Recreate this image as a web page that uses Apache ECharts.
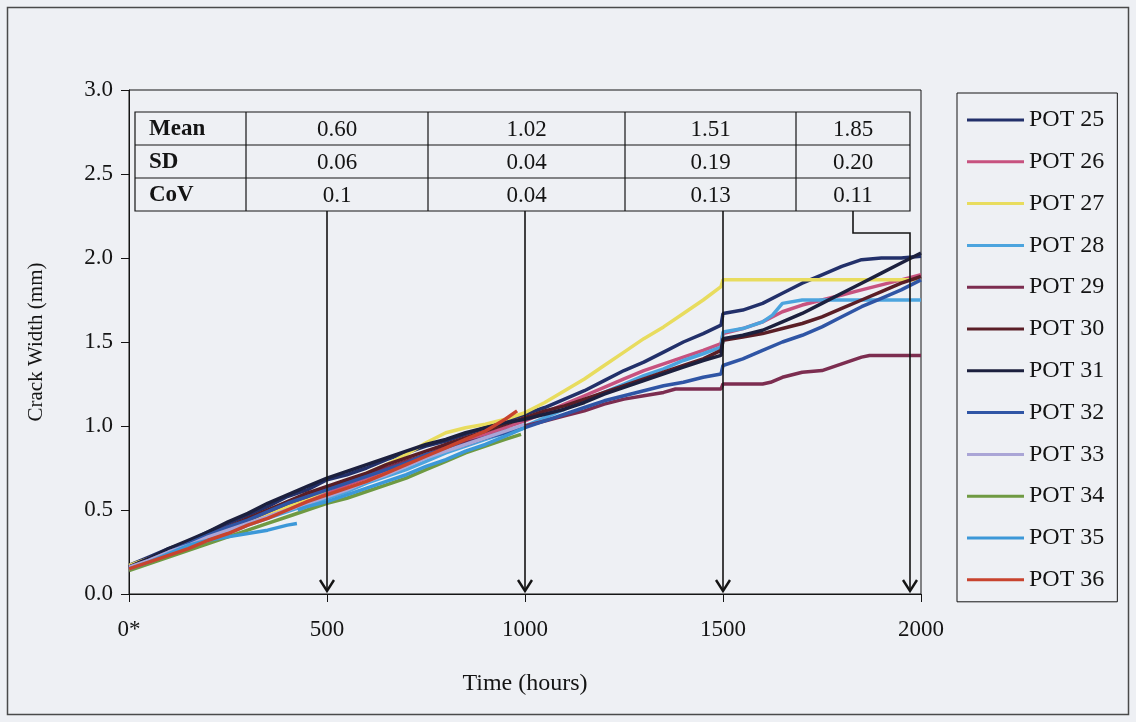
<!DOCTYPE html>
<html>
<head>
<meta charset="utf-8">
<title>Crack width vs time</title>
<script src="https://cdn.jsdelivr.net/npm/echarts@6/dist/echarts.min.js"></script>
<style>
  html, body { margin: 0; padding: 0; background: #eef0f4; }
  #chart { width: 1136px; height: 722px; }
</style>
</head>
<body>
<div id="chart"></div>
<script>
// ---- data -------------------------------------------------------------
const seriesNames = ['POT 25', 'POT 26', 'POT 27', 'POT 28', 'POT 29', 'POT 30',
                     'POT 31', 'POT 32', 'POT 33', 'POT 34', 'POT 35', 'POT 36'];

const seriesColors = ['#22306a', '#c7527f', '#e8dc5e', '#4ca4de', '#7c2d50', '#5a1e26',
                      '#1c203e', '#2f55a5', '#aaa5d6', '#6f9a42', '#3c98d8', '#c8432e'];

// [time (hours), crack width (mm)]
const pot25 = [[0,0.17],[50,0.22],[100,0.27],[150,0.31],[200,0.37],[250,0.42],[300,0.47],[350,0.52],[400,0.58],[450,0.62],
  [500,0.68],[550,0.71],[600,0.75],[650,0.80],[700,0.84],[750,0.88],[800,0.91],[850,0.95],[900,0.99],[950,1.03],
  [1000,1.07],[1050,1.11],[1100,1.16],[1150,1.21],[1200,1.27],[1250,1.33],[1300,1.38],[1350,1.44],[1400,1.50],[1450,1.55],
  [1495,1.60],[1500,1.67],[1550,1.69],[1600,1.73],[1650,1.79],[1700,1.85],[1750,1.90],[1800,1.95],[1850,1.99],[1900,2.00],
  [1950,2.00],[2000,2.01]];
const pot26 = [[0,0.15],[50,0.19],[100,0.24],[150,0.29],[200,0.33],[250,0.38],[300,0.42],[350,0.47],[400,0.52],[450,0.56],
  [500,0.60],[550,0.65],[600,0.69],[650,0.74],[700,0.78],[750,0.83],[800,0.87],[850,0.91],[900,0.95],[950,0.99],
  [1000,1.03],[1050,1.08],[1100,1.13],[1150,1.18],[1200,1.23],[1250,1.28],[1300,1.33],[1350,1.37],[1400,1.41],[1450,1.45],
  [1495,1.49],[1500,1.55],[1550,1.58],[1600,1.62],[1650,1.68],[1700,1.72],[1750,1.75],[1800,1.78],[1850,1.81],[1900,1.84],
  [1950,1.87],[2000,1.90]];
const pot27 = [[0,0.17],[50,0.21],[100,0.25],[150,0.29],[200,0.34],[250,0.38],[300,0.43],[350,0.48],[400,0.52],[450,0.57],
  [500,0.62],[550,0.67],[600,0.72],[650,0.77],[700,0.83],[750,0.90],[800,0.96],[850,0.99],[900,1.01],[950,1.04],
  [1000,1.08],[1050,1.14],[1100,1.21],[1150,1.28],[1200,1.36],[1250,1.44],[1300,1.52],[1350,1.59],[1400,1.67],[1450,1.75],
  [1495,1.83],[1500,1.87],[1550,1.87],[1600,1.87],[1650,1.87],[1700,1.87],[1750,1.87],[1800,1.87],[1850,1.87],[1900,1.87],
  [1950,1.87],[2000,1.87]];
const pot28 = [[0,0.15],[50,0.19],[100,0.23],[150,0.28],[200,0.32],[250,0.36],[300,0.41],[350,0.45],[400,0.49],[450,0.53],
  [500,0.57],[550,0.61],[600,0.66],[650,0.70],[700,0.74],[750,0.79],[800,0.84],[850,0.88],[900,0.92],[950,0.96],
  [1000,1.00],[1050,1.05],[1100,1.10],[1150,1.15],[1200,1.20],[1250,1.25],[1300,1.30],[1350,1.34],[1400,1.39],[1450,1.43],
  [1495,1.47],[1500,1.56],[1550,1.58],[1600,1.62],[1625,1.66],[1650,1.73],[1700,1.75],[1750,1.75],[1800,1.75],[1850,1.75],
  [1900,1.75],[1950,1.75],[2000,1.75]];
const pot29 = [[0,0.16],[50,0.20],[100,0.25],[150,0.30],[200,0.35],[250,0.40],[300,0.44],[350,0.49],[400,0.54],[450,0.58],
  [500,0.63],[550,0.67],[600,0.71],[650,0.75],[700,0.79],[750,0.83],[800,0.87],[850,0.90],[900,0.93],[950,0.97],
  [1000,1.00],[1050,1.03],[1100,1.06],[1150,1.09],[1200,1.13],[1250,1.16],[1300,1.18],[1350,1.20],[1380,1.22],[1450,1.22],
  [1495,1.22],[1500,1.25],[1550,1.25],[1600,1.25],[1620,1.26],[1650,1.29],[1700,1.32],[1750,1.33],[1800,1.37],[1850,1.41],
  [1870,1.42],[1950,1.42],[2000,1.42]];
const pot30 = [[0,0.16],[50,0.21],[100,0.25],[150,0.30],[200,0.35],[250,0.40],[300,0.45],[350,0.50],[400,0.55],[450,0.60],
  [500,0.64],[550,0.68],[600,0.72],[650,0.77],[700,0.81],[750,0.85],[800,0.89],[850,0.93],[900,0.97],[950,1.01],
  [1000,1.05],[1050,1.09],[1100,1.12],[1150,1.16],[1200,1.20],[1250,1.24],[1300,1.28],[1350,1.32],[1400,1.36],[1450,1.40],
  [1495,1.45],[1500,1.51],[1550,1.53],[1600,1.55],[1650,1.58],[1700,1.61],[1750,1.65],[1800,1.70],[1850,1.75],[1900,1.80],
  [1950,1.85],[2000,1.89]];
const pot31 = [[0,0.16],[50,0.21],[100,0.27],[150,0.32],[200,0.37],[250,0.43],[300,0.48],[350,0.54],[400,0.59],[450,0.64],
  [500,0.69],[550,0.73],[600,0.77],[650,0.81],[700,0.85],[750,0.89],[800,0.92],[850,0.96],[900,0.99],[950,1.02],
  [1000,1.04],[1050,1.07],[1100,1.10],[1150,1.14],[1200,1.19],[1250,1.23],[1300,1.27],[1350,1.31],[1400,1.35],[1450,1.39],
  [1495,1.42],[1500,1.52],[1550,1.54],[1600,1.57],[1650,1.62],[1700,1.67],[1750,1.73],[1800,1.79],[1850,1.85],[1900,1.91],
  [1950,1.97],[2000,2.03]];
const pot32 = [[0,0.15],[50,0.20],[100,0.25],[150,0.30],[200,0.35],[250,0.40],[300,0.44],[350,0.49],[400,0.54],[450,0.58],
  [500,0.62],[550,0.66],[600,0.70],[650,0.74],[700,0.78],[750,0.83],[800,0.86],[850,0.89],[900,0.93],[950,0.96],
  [1000,0.99],[1050,1.03],[1100,1.07],[1150,1.11],[1200,1.15],[1250,1.18],[1300,1.21],[1350,1.24],[1400,1.26],[1450,1.29],
  [1495,1.31],[1500,1.36],[1550,1.40],[1600,1.45],[1650,1.50],[1700,1.54],[1750,1.59],[1800,1.65],[1850,1.71],[1900,1.76],
  [1950,1.81],[2000,1.87]];
const pot33 = [[0,0.16],[50,0.20],[100,0.25],[150,0.29],[200,0.34],[250,0.38],[300,0.42],[350,0.46],[400,0.50],[450,0.54],
  [500,0.58],[550,0.62],[600,0.67],[650,0.71],[700,0.76],[750,0.81],[800,0.85],[850,0.89],[900,0.93],[950,0.97],
  [1000,1.01]];
const pot34 = [[0,0.14],[50,0.18],[100,0.22],[150,0.26],[200,0.30],[250,0.34],[300,0.38],[350,0.42],[400,0.46],[450,0.50],
  [500,0.54],[550,0.57],[600,0.61],[650,0.65],[700,0.69],[750,0.74],[800,0.79],[850,0.84],[900,0.88],[950,0.92],
  [990,0.95]];
const pot35 = [[0,0.15],[50,0.19],[100,0.24],[150,0.29],[200,0.32],[250,0.34],[300,0.36],[350,0.38],[400,0.41],[424,0.42],
  [425,'-'],
  [426,0.50],[450,0.52],[500,0.55],[550,0.59],[600,0.63],[650,0.67],[700,0.71],[750,0.76],[800,0.80],[850,0.85],
  [900,0.89],[950,0.94],[1000,0.99]];
const pot36 = [[0,0.15],[50,0.19],[100,0.23],[150,0.27],[200,0.32],[250,0.36],[300,0.41],[350,0.45],[400,0.50],[450,0.55],
  [500,0.59],[550,0.63],[600,0.67],[650,0.72],[700,0.77],[750,0.82],[800,0.87],[850,0.92],[900,0.97],[950,1.04],
  [980,1.09]];

const seriesData = [pot25, pot26, pot27, pot28, pot29, pot30, pot31, pot32, pot33, pot34, pot35, pot36];

// summary statistics at the marked times
const statHours = [500, 1000, 1500, 2000];
const statRowLabels = ['Mean', 'SD', 'CoV'];
const statMean = ['0.60', '1.02', '1.51', '1.85'];
const statSD   = ['0.06', '0.04', '0.19', '0.20'];
const statCoV  = ['0.1', '0.04', '0.13', '0.11'];

const xTickLabels = ['0*', '500', '1000', '1500', '2000'];
const yTickLabels = ['0.0', '0.5', '1.0', '1.5', '2.0', '2.5', '3.0'];

// ---- chart ------------------------------------------------------------
const FONT = '"Liberation Serif", "Times New Roman", Times, serif';
const BG = '#eef0f4';
const INK = '#141414';

const chart = echarts.init(document.getElementById('chart'), null, { renderer: 'canvas' });

const series = seriesNames.map((name, i) => ({
  name: name,
  type: 'line',
  data: seriesData[i],
  color: seriesColors[i],
  showSymbol: false,
  symbol: 'none',
  connectNulls: false,
  lineStyle: { width: 3.5, color: seriesColors[i] },
  emphasis: { disabled: true }
}));

chart.setOption({
  backgroundColor: BG,
  animation: false,
  textStyle: { fontFamily: FONT },
  grid: {
    left: 129, right: 215, top: 90, bottom: 128,
    show: true, borderColor: INK, borderWidth: 1, backgroundColor: 'transparent',
    outerBoundsMode: 'none'
  },
  xAxis: {
    type: 'value', min: 0, max: 2000, interval: 500,
    name: 'Time (hours)', nameLocation: 'middle', nameGap: 78,
    nameTextStyle: { fontFamily: FONT, fontSize: 24, color: INK },
    axisLine: { show: true, onZero: false, lineStyle: { color: INK, width: 1 } },
    axisTick: { show: true, inside: false, length: 8, lineStyle: { color: INK } },
    axisLabel: {
      fontFamily: FONT, fontSize: 23, color: INK, margin: 24,
      formatter: v => xTickLabels[Math.round(v / 500)]
    },
    splitLine: { show: false }
  },
  yAxis: {
    type: 'value', min: 0, max: 3, interval: 0.5,
    name: 'Crack Width (mm)', nameLocation: 'middle', nameGap: 82,
    nameTextStyle: { fontFamily: FONT, fontSize: 21, color: INK },
    axisLine: { show: true, lineStyle: { color: INK, width: 1 } },
    axisTick: { show: true, inside: false, length: 8, lineStyle: { color: INK } },
    axisLabel: {
      fontFamily: FONT, fontSize: 23, color: INK, margin: 16,
      formatter: v => yTickLabels[Math.round(v / 0.5)]
    },
    splitLine: { show: false }
  },
  legend: {
    data: seriesNames,
    orient: 'vertical',
    left: 957, top: 93,
    padding: [15, 13, 10, 10],
    itemWidth: 57, itemHeight: 3, itemGap: 17.8,
    icon: 'rect',
    borderColor: INK, borderWidth: 1,
    backgroundColor: BG,
    selectedMode: false,
    textStyle: { fontFamily: FONT, fontSize: 24, color: INK, lineHeight: 24 }
  },
  series: series
});

// ---- statistics table and arrows ----------------------------------------
const px = h => chart.convertToPixel({ xAxisIndex: 0 }, h);
const py = v => chart.convertToPixel({ yAxisIndex: 0 }, v);

const tableTop = 112, rowH = 33;
const colEdges = [135, 246, 428, 625, 796, 910];
const tableBottom = tableTop + rowH * statRowLabels.length;
const tableLeft = colEdges[0], tableRight = colEdges[colEdges.length - 1];

const gfx = [];
const stroke = { stroke: INK, lineWidth: 1.2 };

gfx.push({ type: 'rect', z: 20, shape: { x: tableLeft, y: tableTop, width: tableRight - tableLeft, height: tableBottom - tableTop },
  style: { fill: BG, stroke: INK, lineWidth: 1.2 } });
for (let c = 1; c < colEdges.length - 1; c++) {
  gfx.push({ type: 'line', z: 21, shape: { x1: colEdges[c], y1: tableTop, x2: colEdges[c], y2: tableBottom }, style: stroke });
}
for (let r = 1; r < statRowLabels.length; r++) {
  gfx.push({ type: 'line', z: 21, shape: { x1: tableLeft, y1: tableTop + r * rowH, x2: tableRight, y2: tableTop + r * rowH }, style: stroke });
}
const rows = [statMean, statSD, statCoV];
statRowLabels.forEach((lab, r) => {
  const cy = tableTop + rowH * r + rowH / 2 + 1;
  gfx.push({ type: 'text', z: 22, style: { text: lab, x: tableLeft + 14, y: cy, align: 'left', verticalAlign: 'middle',
    font: 'bold 23px ' + FONT, fill: INK } });
  rows[r].forEach((val, c) => {
    gfx.push({ type: 'text', z: 22, style: { text: val, x: (colEdges[c + 1] + colEdges[c + 2]) / 2, y: cy,
      align: 'center', verticalAlign: 'middle', font: '23px ' + FONT, fill: INK } });
  });
});

const yAxisPx = py(0);
const tipY = yAxisPx - 3;
function arrowHead(x, y) {
  return { type: 'polyline', z: 25, shape: { points: [[x - 7, y - 11], [x, y], [x + 7, y - 11]] },
    style: { stroke: INK, lineWidth: 2.4, fill: null } };
}
function vline(x, y1, y2) {
  return { type: 'line', z: 25, shape: { x1: x, y1: y1, x2: x, y2: y2 }, style: { stroke: INK, lineWidth: 1.6 } };
}
// straight arrows under the first three columns
for (let i = 0; i < statHours.length - 1; i++) {
  const x = px(statHours[i]);
  gfx.push(vline(x, tableBottom, tipY));
  gfx.push(arrowHead(x, tipY));
}
// the last column leads to the end of the test via a dog-leg
const lastCol = (colEdges[4] + colEdges[5]) / 2;
const elbowY = tableBottom + 22;
const endX = px(statHours[statHours.length - 1]) - 11;
gfx.push({ type: 'polyline', z: 25, shape: { points: [[lastCol, tableBottom], [lastCol, elbowY], [endX, elbowY], [endX, tipY]] },
  style: { stroke: INK, lineWidth: 1.6, fill: null } });
gfx.push(arrowHead(endX, tipY));

// outer frame of the figure
gfx.push({ type: 'rect', z: 30, shape: { x: 7.5, y: 7.5, width: 1121, height: 707 },
  style: { fill: null, stroke: '#4a4a4a', lineWidth: 1.5 } });

chart.setOption({ graphic: gfx });
</script>
</body>
</html>
